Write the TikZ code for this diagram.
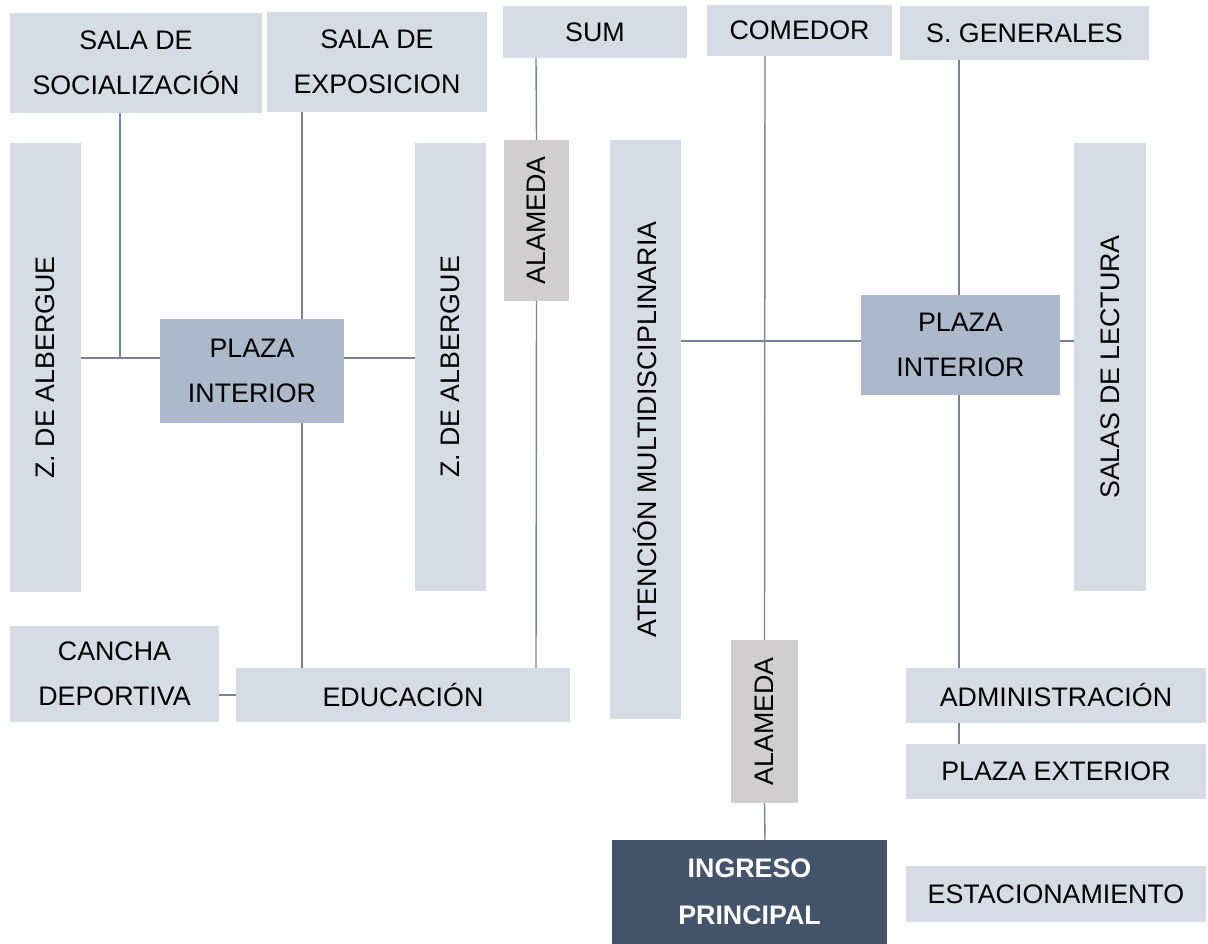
\documentclass[tikz,border=0pt]{standalone}
\usepackage{fontspec}
\setmainfont{Liberation Sans}
\usepackage{graphicx}
\definecolor{boxlight}{HTML}{D6DCE4}
\definecolor{boxplaza}{HTML}{ADB9CA}
\definecolor{boxalameda}{HTML}{D0CECE}
\definecolor{boxdark}{HTML}{44546A}
\definecolor{linkgray}{HTML}{74829A}
\begin{document}
\begin{tikzpicture}[x=1pt,y=-1pt,
  zone/.style={fill=boxlight,inner sep=0pt,align=center,font=\fontsize{26.8}{45}\selectfont},
  plaza/.style={zone,fill=boxplaza},
  alameda/.style={zone,fill=boxalameda},
  entry/.style={zone,fill=boxdark,text=white,font=\fontsize{26.8}{47}\selectfont\bfseries},
  size/.style 2 args={minimum width=#1pt,minimum height=#2pt},
  link/.style={draw=linkgray,line width=1.4pt}]
\useasboundingbox (0,0) rectangle (1208,944);

\node[zone,size={252}{100}] (soc) at (136,63) {SALA DE\\SOCIALIZACIÓN};
\node[zone,size={220}{100}] (expo) at (377,62) {SALA DE\\EXPOSICION};
\node[zone,size={184}{52}] (sum) at (595,32) {SUM};
\node[zone,size={185}{51}] (comedor) at (799.5,30.5) {COMEDOR};
\node[zone,size={249}{54}] (sgen) at (1024.5,33) {S. GENERALES};
\node[zone,size={71}{449}] (albL) at (45.5,367.5) {\rotatebox{90}{Z. DE ALBERGUE}};
\node[plaza,size={184}{104}] (plazaL) at (252,371) {PLAZA\\INTERIOR};
\node[zone,size={71}{448}] (albR) at (450.5,367) {\rotatebox{90}{Z. DE ALBERGUE}};
\node[alameda,size={65}{161}] (alamN) at (536.5,220.5) {\rotatebox{90}{ALAMEDA}};
\node[zone,size={71}{579}] (aten) at (645.5,429.5) {\rotatebox{90}{ATENCIÓN MULTIDISCIPLINARIA}};
\node[plaza,size={199}{100}] (plazaR) at (960.5,345) {PLAZA\\INTERIOR};
\node[zone,size={72}{448}] (salas) at (1110,367) {\rotatebox{90}{SALAS DE LECTURA}};
\node[zone,size={209}{96}] (cancha) at (114.5,674) {CANCHA\\DEPORTIVA};
\node[zone,size={334}{54}] (educ) at (403,695) {EDUCACIÓN};
\node[alameda,size={67}{163}] (alamS) at (764.5,721.5) {\rotatebox{90}{ALAMEDA}};
\node[zone,size={300}{55}] (admin) at (1056,695.5) {ADMINISTRACIÓN};
\node[zone,size={300}{55}] (pext) at (1056,771.5) {PLAZA EXTERIOR};
\node[entry,size={275}{104}] (ingreso) at (749.5,892) {INGRESO\\PRINCIPAL};
\node[zone,size={300}{56}] (estac) at (1056,894) {ESTACIONAMIENTO};

\coordinate (xSoc) at (120,0);
\coordinate (xExpo) at (302,0);
\coordinate (xSum) at (536,0);
\coordinate (xCom) at (765,0);
\coordinate (xGen) at (959,0);
\coordinate (yL) at (0,358);
\coordinate (yR) at (0,341);

\draw[link] (soc.south -| xSoc) -- (xSoc |- yL);
\draw[link] (albL.east |- yL) -- (plazaL.west |- yL);
\draw[link] (plazaL.east |- yL) -- (albR.west |- yL);
\draw[link] (expo.south -| xExpo) -- (plazaL.north -| xExpo);
\draw[link] (plazaL.south -| xExpo) -- (educ.north -| xExpo);
\draw[link] (sum.south -| xSum) -- (alamN.north);
\draw[link] (alamN.south) -- (educ.north -| xSum);
\draw[link] (cancha.east |- educ) -- (educ.west);
\draw[link] (aten.east |- yR) -- (plazaR.west |- yR);
\draw[link] (plazaR.east |- yR) -- (salas.west |- yR);
\draw[link] (comedor.south -| xCom) -- (alamS.north);
\draw[link] (alamS.south) -- (ingreso.north -| xCom);
\draw[link] (sgen.south -| xGen) -- (plazaR.north -| xGen);
\draw[link] (plazaR.south -| xGen) -- (admin.north -| xGen);
\draw[link] (admin.south -| xGen) -- (pext.north -| xGen);
\end{tikzpicture}
\end{document}
